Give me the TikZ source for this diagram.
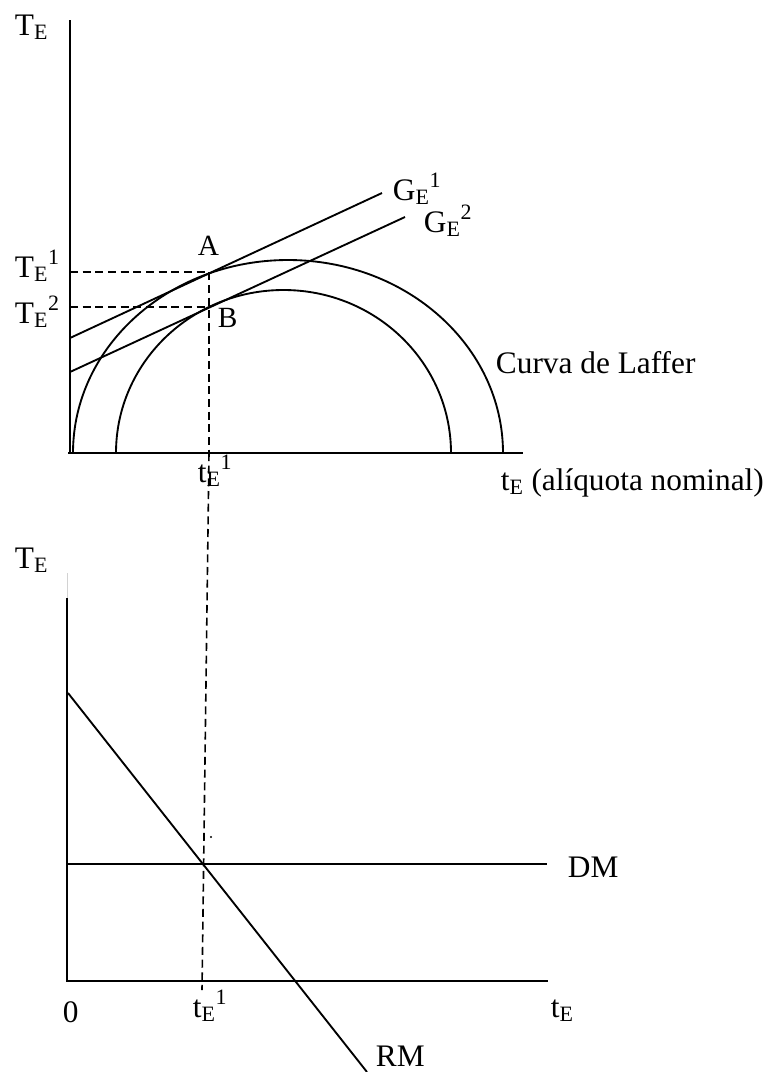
\documentclass[tikz,border=0pt]{standalone}
\usepackage{fontspec}
\setmainfont{Liberation Serif}
\usetikzlibrary{calc}

\begin{document}
\begin{tikzpicture}[x=0.75pt, y=-0.75pt, line width=1.4pt,
  % text labels: placed by their base line
  lbl/.style={anchor=base west, inner sep=0pt, font=\fontsize{23.5}{28}\selectfont},
  pointlbl/.style={lbl, font=\fontsize{22}{26}\selectfont},
  % dashed guide lines
  guide/.style={dash pattern=on 6pt off 3.5pt, line width=1.2pt}
]
  \useasboundingbox (0,0) rectangle (765,1072);

  % --- Upper panel: Laffer curves ---
  \coordinate (o1)    at (70,453);
  \coordinate (ytop1) at (70,20);
  \coordinate (xend1) at (523,453);
  \draw (ytop1) -- (o1);
  \draw (68,453) -- (xend1);

  % Laffer curves (outer and inner)
  \coordinate (outL) at (73,453);
  \coordinate (inL)  at (116,453);
  \draw (outL) arc[start angle=180, end angle=360, x radius=215, y radius=193];
  \draw (inL)  arc[start angle=180, end angle=360, x radius=167.5, y radius=163];

  % Lines G_E^1 and G_E^2
  \coordinate (g1s) at (70,338);
  \coordinate (g1e) at (382,193);
  \coordinate (g2s) at (70,372);
  \coordinate (g2e) at (405,217);
  \draw (g1s) -- (g1e);
  \draw (g2s) -- (g2e);

  % Points A, B and the dashed guides
  \coordinate (ptA) at (209,272);
  \coordinate (ptB) at (209,307);
  \coordinate (foot) at (202,990);
  \draw[guide] (o1 |- ptA) -- (ptA) -- (ptA |- o1);
  \draw[guide] (o1 |- ptB) -- (ptB);
  \draw[guide] (ptA |- o1) -- (foot);

  \node[lbl] (ylab1) at (14,35) {T\textsubscript{E}};
  \node[lbl] (te1) at (14,277) {T\textsubscript{E}\textsuperscript{1}};
  \node[lbl] (te2) at (14,323) {T\textsubscript{E}\textsuperscript{2}};
  \node[pointlbl] (labA) at (197,255) {A};
  \node[pointlbl] (labB) at (217,327) {B};
  \node[lbl] (ge1) at (392,200) {G\textsubscript{E}\textsuperscript{1}};
  \node[lbl] (ge2) at (423,232) {G\textsubscript{E}\textsuperscript{2}};
  \node[lbl] (laffer) at (495,373) {Curva de Laffer};
  \node[lbl] (xlab1) at (500,490) {t\textsubscript{E} (alíquota nominal)};
  \node[lbl] (tt1) at (197,482) {t\textsubscript{E}\textsuperscript{1}};

  % --- Lower panel: DM and RM ---
  \coordinate (o2)     at (67,981);
  \coordinate (ytop2)  at (67,598);
  \coordinate (yfaint) at (67,573);
  \coordinate (xend2)  at (548,981);
  \draw[gray!35, line width=0.6pt] (yfaint) -- (ytop2);
  \draw (ytop2) -- (o2) -- (xend2);

  \coordinate (dmL) at (66,864);
  \coordinate (dmR) at (547,864);
  \coordinate (rmT) at (68,693);
  \coordinate (rmB) at (367,1072);
  \draw (dmL) -- (dmR);
  \draw (rmT) -- (rmB);
  \fill (211,837) circle (1.1);

  \node[lbl] (ylab2) at (14,568) {T\textsubscript{E}};
  \node[lbl] (dm) at (567,877) {DM};
  \node[lbl] (rm) at (375,1066) {RM};
  \node[lbl] (zero) at (62,1022) {0};
  \node[lbl] (tt2) at (192,1017) {t\textsubscript{E}\textsuperscript{1}};
  \node[lbl] (xlab2) at (550,1017) {t\textsubscript{E}};
\end{tikzpicture}
\end{document}
